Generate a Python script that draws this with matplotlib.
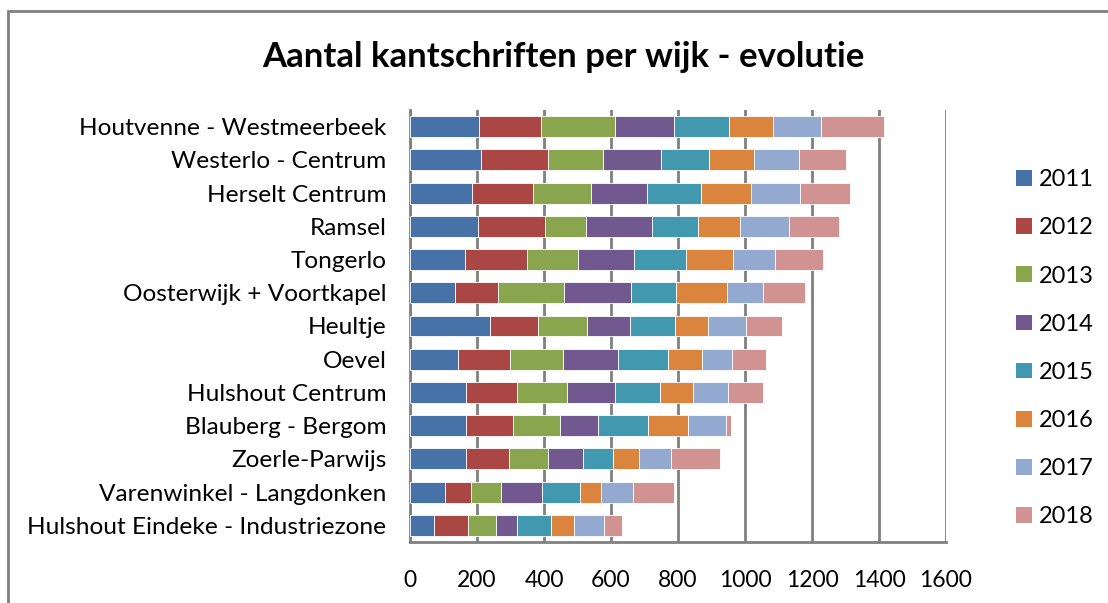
import matplotlib
matplotlib.use("Agg")
import matplotlib.pyplot as plt
from matplotlib.patches import Rectangle, Patch
import numpy as np

plt.rcParams['font.family'] = ['Lato', 'DejaVu Sans']

categories = [
    "Houtvenne - Westmeerbeek",
    "Westerlo - Centrum",
    "Herselt Centrum",
    "Ramsel",
    "Tongerlo",
    "Oosterwijk + Voortkapel",
    "Heultje",
    "Oevel",
    "Hulshout Centrum",
    "Blauberg - Bergom",
    "Zoerle-Parwijs",
    "Varenwinkel - Langdonken",
    "Hulshout Eindeke - Industriezone",
]
years = ["2011", "2012", "2013", "2014", "2015", "2016", "2017", "2018"]

v2011 = [205, 212, 184, 203, 163, 133, 240, 142, 167, 166, 166, 105, 73]
v2012 = [186, 199, 183, 199, 186, 131, 143, 156, 151, 140, 129, 78, 99]
v2013 = [222, 164, 172, 124, 151, 197, 144, 160, 151, 143, 116, 89, 85]
v2014 = [174, 173, 167, 197, 169, 199, 131, 164, 144, 112, 105, 122, 61]
v2015 = [165, 144, 162, 136, 154, 133, 132, 148, 132, 148, 89, 112, 103]
v2016 = [132, 135, 149, 127, 142, 152, 101, 101, 101, 120, 79, 64, 70]
v2017 = [144, 135, 148, 146, 126, 110, 113, 90, 102, 115, 94, 97, 89]
v2018 = [186, 139, 147, 150, 142, 124, 106, 101, 105, 14, 148, 122, 53]

series = [v2011, v2012, v2013, v2014, v2015, v2016, v2017, v2018]
colors = ["#4672A8", "#AA4643", "#89A54E", "#71588F", "#4198AF",
          "#DB843D", "#93A9CF", "#D19392"]

fig = plt.figure(figsize=(11.08, 6.03), dpi=100)
ax = fig.add_axes([410/1108, 1 - 542/603, (946-410)/1108, (542-110)/603])

y = np.arange(len(categories))
left = np.zeros(len(categories))
handles = []
for vals, col, yr in zip(series, colors, years):
    ax.barh(y, vals, left=left, height=0.63, color=col, edgecolor="white",
            linewidth=0.6, zorder=3)
    left += np.array(vals)
    handles.append(Patch(facecolor=col, edgecolor="none", label=yr))

ax.set_xlim(0, 1600)
ax.set_ylim(len(categories) - 0.5, -0.5)
ax.set_xticks(np.arange(0, 1601, 200))
ax.set_yticks(y)
ax.set_yticklabels(categories, fontsize=17.6)
ax.tick_params(axis='x', labelsize=16.5, length=0, pad=20)
ax.tick_params(axis='y', length=0, pad=17)
ax.grid(axis='x', color="#808080", linewidth=2, zorder=0)
for s in ["top", "right"]:
    ax.spines[s].set_visible(False)
for s in ["left", "bottom"]:
    ax.spines[s].set_color("#808080")
    ax.spines[s].set_linewidth(2)

fig.text(563/1108, 1 - 57/603, "Aantal kantschriften per wijk - evolutie",
         ha="center", va="center", fontsize=25, fontweight="bold")

fig.legend(handles=handles, loc="upper left",
           bbox_to_anchor=(995/1108, 1 - 148/603), frameon=False,
           fontsize=17, labelspacing=1.15, handlelength=0.65, handleheight=0.65,
           handletextpad=0.3)

fig.patches.append(Rectangle((8/1108, -0.05), 1.1, 1 - 11.5/603 + 0.05,
                             transform=fig.transFigure, fill=False,
                             edgecolor="#808080", linewidth=2))

fig.savefig("out.png", dpi=100, facecolor="white")
